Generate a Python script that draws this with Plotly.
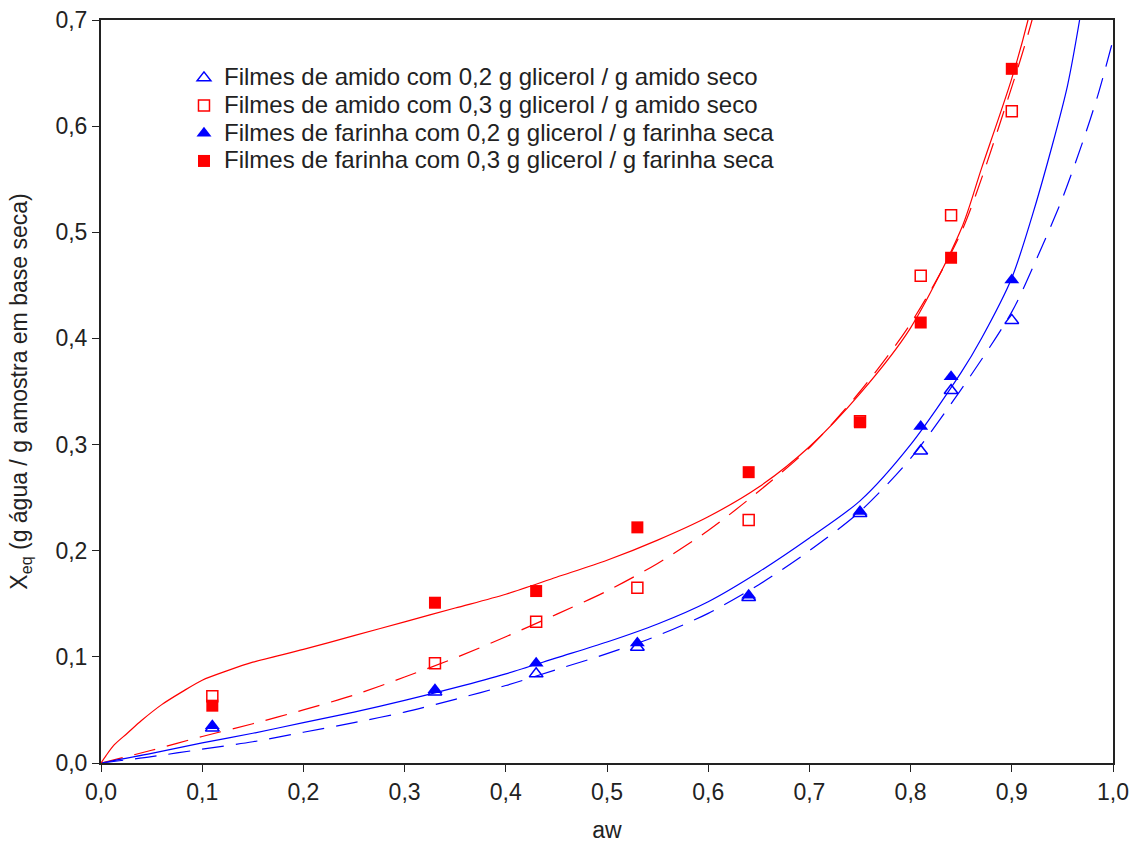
import plotly.graph_objects as go

# ---- measured points (aw, Xeq) ----
aw_pts = [0.11, 0.33, 0.43, 0.53, 0.64, 0.75, 0.81, 0.84, 0.90]
amido_02 = [0.033, 0.067, 0.084, 0.109, 0.156, 0.235, 0.294, 0.351, 0.417]
amido_03 = [0.063, 0.094, 0.133, 0.165, 0.229, 0.322, 0.459, 0.516, 0.614]
farinha_02 = [0.035, 0.069, 0.094, 0.113, 0.158, 0.237, 0.317, 0.364, 0.455]
farinha_03 = [0.054, 0.151, 0.162, 0.222, 0.274, 0.321, 0.415, 0.476, 0.654]

# ---- fitted curves ----
aw_farinha03_fit = [0, 0.005, 0.013, 0.026, 0.04, 0.06, 0.08, 0.1, 0.125, 0.15, 0.2, 0.25, 0.3,
                    0.35, 0.4, 0.45, 0.5, 0.55, 0.6, 0.65, 0.7, 0.75, 0.8, 0.85, 0.87, 0.9,
                    0.916, 0.93]
x_farinha03_fit = [0, 0.007, 0.017, 0.028, 0.040, 0.055, 0.067, 0.078, 0.087, 0.095, 0.107,
                   0.12, 0.133, 0.146, 0.159, 0.175, 0.191, 0.21, 0.232, 0.26, 0.298, 0.348,
                   0.41, 0.503, 0.56, 0.645, 0.70, 0.76]

aw_amido03_fit = [0, 0.05, 0.1, 0.15, 0.2, 0.25, 0.3, 0.35, 0.4, 0.45, 0.5, 0.55, 0.6, 0.65,
                  0.7, 0.75, 0.8, 0.85, 0.9, 0.92, 0.935]
x_amido03_fit = [0, 0.012, 0.025, 0.037, 0.05, 0.064, 0.081, 0.099, 0.119, 0.14, 0.162, 0.188,
                 0.219, 0.256, 0.297, 0.35, 0.414, 0.5, 0.637, 0.70, 0.76]

aw_farinha02_fit = [0, 0.05, 0.1, 0.15, 0.2, 0.25, 0.3, 0.35, 0.4, 0.45, 0.5, 0.55, 0.6, 0.65,
                    0.7, 0.75, 0.8, 0.85, 0.87, 0.9, 0.92, 0.94, 0.955, 0.967, 0.98]
x_farinha02_fit = [0, 0.009, 0.019, 0.028, 0.038, 0.048, 0.059, 0.071, 0.084, 0.099, 0.114,
                   0.131, 0.152, 0.18, 0.212, 0.247, 0.3, 0.368, 0.400, 0.457, 0.515, 0.582,
                   0.638, 0.70, 0.78]

aw_amido02_fit = [0, 0.05, 0.1, 0.15, 0.2, 0.25, 0.3, 0.35, 0.4, 0.45, 0.5, 0.55, 0.6, 0.65,
                  0.7, 0.75, 0.8, 0.85, 0.9, 0.925, 0.95, 0.97, 0.985, 1.0]
x_amido02_fit = [0, 0.006, 0.013, 0.02, 0.029, 0.038, 0.048, 0.06, 0.073, 0.088, 0.103, 0.12,
                 0.141, 0.168, 0.2, 0.237, 0.287, 0.352, 0.425, 0.476, 0.532, 0.585, 0.629, 0.681]

x_ticks = [0.0, 0.1, 0.2, 0.3, 0.4, 0.5, 0.6, 0.7, 0.8, 0.9, 1.0]
x_ticktext = ["0,0", "0,1", "0,2", "0,3", "0,4", "0,5", "0,6", "0,7", "0,8", "0,9", "1,0"]
y_ticks = [0.0, 0.1, 0.2, 0.3, 0.4, 0.5, 0.6, 0.7]
y_ticktext = ["0,0", "0,1", "0,2", "0,3", "0,4", "0,5", "0,6", "0,7"]

names = [
    "Filmes de amido com 0,2 g glicerol / g amido seco",
    "Filmes de amido com 0,3 g glicerol / g amido seco",
    "Filmes de farinha com 0,2 g glicerol / g farinha seca",
    "Filmes de farinha com 0,3 g glicerol / g farinha seca",
]

BLUE = "#0000FF"
RED = "#FF0000"
FONT = "Liberation Sans, Arial, sans-serif"
DASH = "22px,12px"
TXT = "#222222"


def legend_label(s):
    return '<span style="font-size:24px">' + s + "</span>"


fig = go.Figure()

# curves
line_kw = dict(width=1.2, shape="spline", smoothing=0.8)
fig.add_trace(go.Scatter(x=aw_amido02_fit, y=x_amido02_fit, mode="lines", showlegend=False,
                         line=dict(color=BLUE, dash=DASH, **line_kw), hoverinfo="skip"))
fig.add_trace(go.Scatter(x=aw_amido03_fit, y=x_amido03_fit, mode="lines", showlegend=False,
                         line=dict(color=RED, dash=DASH, **line_kw), hoverinfo="skip"))
fig.add_trace(go.Scatter(x=aw_farinha02_fit, y=x_farinha02_fit, mode="lines", showlegend=False,
                         line=dict(color=BLUE, **line_kw), hoverinfo="skip"))
fig.add_trace(go.Scatter(x=aw_farinha03_fit, y=x_farinha03_fit, mode="lines", showlegend=False,
                         line=dict(color=RED, **line_kw), hoverinfo="skip"))

# points
fig.add_trace(go.Scatter(x=aw_pts, y=amido_02, mode="markers", name=legend_label(names[0]),
                         marker=dict(symbol="triangle-up-open", color=BLUE, size=12,
                                     line=dict(width=1.5, color=BLUE))))
fig.add_trace(go.Scatter(x=aw_pts, y=amido_03, mode="markers", name=legend_label(names[1]),
                         marker=dict(symbol="square-open", color=RED, size=11,
                                     line=dict(width=1.5, color=RED))))
fig.add_trace(go.Scatter(x=aw_pts, y=farinha_02, mode="markers", name=legend_label(names[2]),
                         marker=dict(symbol="triangle-up", color=BLUE, size=13,
                                     line=dict(width=0))))
fig.add_trace(go.Scatter(x=aw_pts, y=farinha_03, mode="markers", name=legend_label(names[3]),
                         marker=dict(symbol="square", color=RED, size=12,
                                     line=dict(width=0))))

axis_common = dict(
    showgrid=False, zeroline=False, showline=True, linecolor=TXT, linewidth=2,
    mirror=True, ticks="outside", ticklen=7, tickwidth=1, tickcolor=TXT,
    tickfont=dict(family=FONT, size=23, color=TXT), automargin=False,
)

fig.update_xaxes(range=[0, 1.0], tickvals=x_ticks, ticktext=x_ticktext,
                 title=dict(text="aw", font=dict(family=FONT, size=23, color=TXT), standoff=18),
                 **axis_common)
fig.update_yaxes(range=[0, 0.7], tickvals=y_ticks, ticktext=y_ticktext,
                 title=dict(text="X<sub>eq</sub> (g água / g amostra em base seca)",
                            font=dict(family=FONT, size=23, color=TXT), standoff=21),
                 **axis_common)

fig.update_layout(
    width=1136, height=846,
    margin=dict(l=101, r=23, t=20, b=83),
    paper_bgcolor="white", plot_bgcolor="white",
    font=dict(family=FONT, size=23, color=TXT),
    legend=dict(x=0.082, y=0.9475, xanchor="left", yanchor="top",
                bgcolor="rgba(0,0,0,0)", borderwidth=0,
                font=dict(family=FONT, size=19, color=TXT),
                itemsizing="trace", tracegroupgap=0),
)

fig.write_html("out.html")
